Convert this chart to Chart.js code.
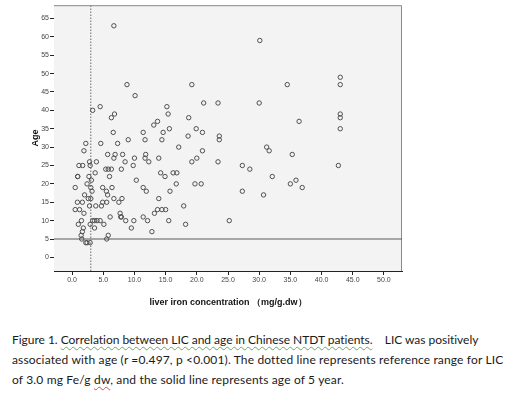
<!DOCTYPE html>
<html><head><meta charset="utf-8">
<script src="https://cdn.jsdelivr.net/npm/chart.js@4.4.1/dist/chart.umd.min.js"></script>
<style>
html,body{margin:0;padding:0;background:#fff;}
#wrap{position:relative;width:520px;height:393px;overflow:hidden;background:#fff;}
#c{position:absolute;left:0;top:0;}
#cap{position:absolute;left:12px;top:330px;font-family:Lato,"Liberation Sans",sans-serif;font-size:12px;line-height:20px;color:#1a1a1a;white-space:nowrap;}
.g{text-decoration:underline wavy #6aa86a;text-decoration-thickness:1px;text-underline-offset:2px;}
.r{text-decoration:underline wavy #d05050;text-decoration-thickness:1px;text-underline-offset:2px;}
</style></head>
<body><div id="wrap"><canvas id="c" width="520" height="315"></canvas>
<div id="cap"><div id="l1">Figure 1. <span class="g">Correlation between LIC and age in Chinese NTDT patients.</span>&nbsp;&nbsp;&nbsp;&nbsp;LIC was positively</div>
<div id="l2">associated with age (r =0.497, p &lt;0.001). The dotted line represents reference range for LIC</div>
<div id="l3">of 3.0 mg Fe/g <span class="r">dw</span>, and the solid line represents age of 5 year.</div></div></div>
<script>
const licValues = [6.7,8.8,10.1,3.3,4.5,6.3,6.8,6.6,9.0,11.4,11.7,13.1,13.7,14.6,15.2,15.4,15.6,14.4,18.7,19.2,18.6,19.9,
30.1,34.5,43.0,43.0,21.1,23.4,30.0,20.9,23.6,23.6,36.4,43.0,43.0,43.0,
20.9,20.0,19.2,23.4,19.7,20.7,27.3,28.5,27.3,30.7,25.2,31.2,31.6,35.3,32.1,35.0,35.9,36.9,42.7,
17.1,11.8,11.7,12.3,13.9,14.2,14.9,16.2,16.8,16.7,11.4,11.9,15.7,13.9,17.9,13.2,13.7,14.4,15.0,11.4,12.1,15.5,18.2,12.8,
2.2,1.9,4.6,7.3,5.7,6.9,6.7,8.1,8.5,10.0,9.8,1.1,1.7,2.8,2.9,3.9,3.7,0.9,0.9,2.7,5.4,5.8,6.3,6.0,7.9,10.3,
0.5,2.4,3.0,3.2,4.9,5.5,5.7,6.4,6.7,2.0,2.6,3.0,0.85,1.65,2.8,3.8,4.7,4.9,5.55,7.5,8.0,
0.5,1.2,1.9,7.7,7.8,7.9,8.6,6.1,9.9,9.5,1.5,1.0,2.9,3.3,3.6,4.0,3.6,4.5,5.1,1.8,1.65,1.45,1.55,2.2,2.4,2.9,5.8,5.55,3.1];
const ageValues = [63,47,44,40,41,38,39,34,32,34,32,36,37,34,41,39,35,32,38,47,33,35,
59,47,49,47,42,42,42,34,33,32,37,39,38,35,
29,27,26,26,20,20,25,24,18,17,10,30,29,28,22,20,21,19,25,
30,28,27,26,27,23,22,23,23,20,19,18,18,16,14,12,13,13,13,11,10,10,9,7,
31,29,31,31,28,28,27,28,26,27,25,25,25,26,25,26,23,22,22,22,24,24,24,22,24,21,
19,20,19,18,19,18,17,19,16,17,16,16,15,15,14,14,14,15,15,15,16,
13,13,12,12,11,11,10,11,10,8,10,9,9,10,10,10,8,10,9,8,7,6,5,4,4,4,6,5,21];
const xTickValues = [0,5,10,15,20,25,30,35,40,45,50];
const yTickValues = [0,5,10,15,20,25,30,35,40,45,50,55,60,65];
const licReference = 3.0;
const ageReference = 5;
const xRange = [-2.9, 52.9];
const yRange = [-3.7, 68.6];

const points = licValues.map((v,i)=>({x:v,y:ageValues[i]}));

// fit caption lines to the reference line widths
[['l1',467],['l2',491],['l3',332]].forEach(([id,w])=>{
  const el=document.getElementById(id);
  el.style.display='inline-block';
  const cur=el.getBoundingClientRect().width;
  const n=el.textContent.length;
  el.style.letterSpacing=((w-cur)/n).toFixed(3)+'px';
  el.style.display='block';
});

const plotBg = {
  id:'plotBg',
  beforeDatasetsDraw(chart){
    const {ctx, chartArea:a} = chart;
    ctx.save();
    ctx.fillStyle='#f3f3f3';
    ctx.fillRect(a.left,a.top,a.right-a.left,a.bottom-a.top);
    ctx.strokeStyle='#8a8a8a';
    ctx.lineWidth=1;
    ctx.beginPath();
    ctx.moveTo(a.left,a.top+0.5);ctx.lineTo(a.right-0.5,a.top+0.5);ctx.lineTo(a.right-0.5,a.bottom);
    ctx.stroke();
    ctx.restore();
  }
};

new Chart(document.getElementById('c'),{
  type:'scatter',
  data:{datasets:[
    {data:points,pointStyle:'circle',pointRadius:2.2,pointBorderWidth:1,pointBorderColor:'#505050',pointBackgroundColor:'rgba(0,0,0,0)',pointHoverRadius:2.2,order:1},
    {type:'line',data:[{x:licReference,y:yRange[0]},{x:licReference,y:yRange[1]}],borderColor:'#6a6a6a',borderWidth:1,borderDash:[1.5,1.5],pointRadius:0,order:2},
    {type:'line',data:[{x:xRange[0],y:ageReference},{x:xRange[1],y:ageReference}],borderColor:'#5a5a5a',borderWidth:1.2,pointRadius:0,order:2}
  ]},
  options:{
    responsive:false,animation:false,devicePixelRatio:1,
    layout:{padding:{top:4,right:118,left:0,bottom:0}},
    plugins:{legend:{display:false},tooltip:{enabled:false}},
    scales:{
      x:{type:'linear',min:xRange[0],max:xRange[1],
        afterFit(s){s.height=44;},
        afterBuildTicks(s){s.ticks=xTickValues.map(v=>({value:v}));},
        grid:{drawOnChartArea:false,drawTicks:true,tickLength:4,color:'#222'},
        border:{display:true,color:'#222',width:1},
        ticks:{padding:1,color:'#444',font:{family:'Liberation Sans, Arial',size:7},callback:v=>Number(v).toFixed(1),maxRotation:0,autoSkip:false},
        title:{display:true,text:'liver iron concentration （mg/g.dw）',color:'#111',font:{family:'Liberation Sans, Arial',size:9,weight:'bold'},padding:{top:0,bottom:7}}
      },
      y:{type:'linear',min:yRange[0],max:yRange[1],
        afterFit(s){s.width=54;},
        afterBuildTicks(s){s.ticks=yTickValues.map(v=>({value:v}));},
        grid:{drawOnChartArea:false,drawTicks:true,tickLength:4,color:'#222'},
        border:{display:true,color:'#222',width:1},
        ticks:{padding:1,color:'#444',font:{family:'Liberation Sans, Arial',size:7},autoSkip:false},
        title:{display:true,text:'Age',color:'#111',font:{family:'Liberation Sans, Arial',size:9,weight:'bold'},padding:{top:30,bottom:0}}
      }
    }
  },
  plugins:[plotBg]
});
</script>
</body></html>
